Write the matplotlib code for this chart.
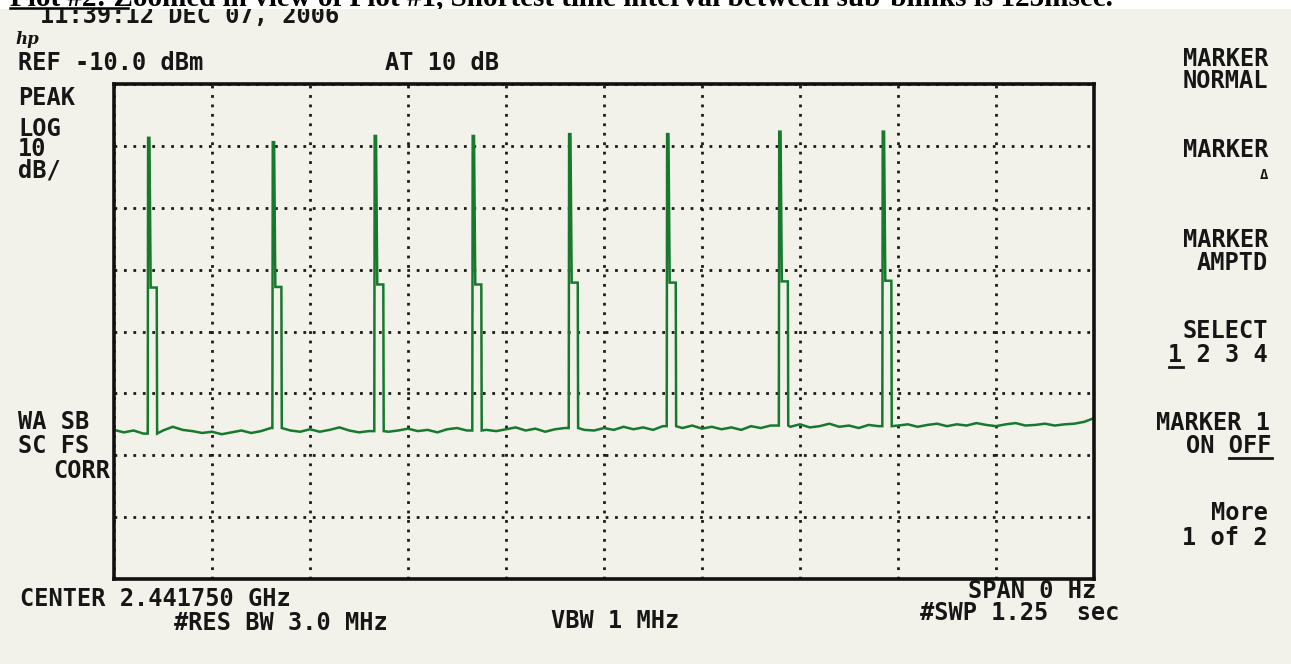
import numpy as np
import matplotlib
matplotlib.use("Agg")
import matplotlib.pyplot as plt
from matplotlib.lines import Line2D
from matplotlib.patches import Rectangle
from matplotlib.transforms import Bbox, TransformedBbox

# zero-span sweep: 1.25 s across the screen, ref -10 dBm, 10 dB/div
sweep_s = 1.25
ref_dbm = -10.0
db_per_div = 10

# noise floor read every 12.5 ms (dBm)
floor_db = [
    -65.9, -66.3, -66.0, -66.5, -66.2, -66.0, -65.4, -65.9, -66.1, -66.4,
    -66.2, -66.6, -66.3, -66.0, -66.4, -66.1, -65.6, -66.3, -66.0, -66.2,
    -65.8, -66.2, -65.9, -65.5, -66.0, -66.3, -66.1, -65.8, -66.2, -66.0,
    -65.7, -66.1, -65.9, -66.3, -65.8, -65.6, -66.0, -65.4, -65.9, -66.1,
    -65.8, -65.5, -66.0, -65.7, -66.2, -65.8, -65.6, -65.3, -65.9, -66.0,
    -65.6, -65.9, -65.4, -65.8, -65.5, -65.9, -65.3, -65.7, -65.6, -65.2,
    -65.7, -65.4, -65.8, -65.5, -65.9, -65.3, -65.6, -65.2, -65.7, -65.4,
    -65.0, -65.5, -65.3, -64.9, -65.4, -65.2, -65.6, -65.1, -65.3, -64.8,
    -65.2, -65.0, -65.4, -65.1, -64.9, -65.3, -65.0, -65.2, -64.8, -65.1,
    -65.3, -65.0, -64.8, -65.2, -65.1, -64.9, -65.2, -65.0, -64.9, -64.6,
    -64.0,
]

# sub-blinks: start time (s), spike level and shoulder level (dBm)
burst_t = [0.043, 0.202, 0.332, 0.457, 0.580, 0.705, 0.848, 0.980]
burst_peak = [-18.7, -19.4, -18.4, -18.4, -18.1, -18.1, -17.7, -17.7]
burst_shoulder = [-42.9, -42.8, -42.4, -42.4, -42.1, -42.1, -41.9, -41.8]
burst_len = 0.0115

floor_t = np.linspace(0, sweep_s, len(floor_db))

# build the trace: floor with the bursts spliced in
tx, ty = [], []
k = 0
for tt, vv in zip(floor_t, floor_db):
    if k < len(burst_t) and tt >= burst_t[k]:
        t0 = burst_t[k]
        fl = ty[-1]
        tx += [t0, t0 + 0.0005, t0 + 0.0022, t0 + 0.0038, t0 + burst_len,
               t0 + burst_len + 0.0005]
        ty += [fl, burst_peak[k], burst_peak[k], burst_shoulder[k], burst_shoulder[k], fl]
        k += 1
    if k > 0 and burst_t[k - 1] <= tt <= burst_t[k - 1] + burst_len + 0.0005:
        continue
    tx.append(tt)
    ty.append(vv)

W, H = 1291, 664
paper = '#f3f2ea'
ink = '#161616'
green = '#17792d'
FS = 17
HP = dict(family='DejaVu Sans Mono', weight='bold', size=FS, color=ink)

fig = plt.figure(figsize=(W / 100, H / 100), dpi=100, facecolor=paper)


def fx(px):
    return px / W


def fy(py):
    return 1 - py / H


# white strip of the document above the scan
fig.add_artist(Rectangle((0, fy(9)), 1, 9 / H, transform=fig.transFigure,
                         facecolor='white', edgecolor='none', zorder=1))
top_clip = TransformedBbox(Bbox([[0, fy(9)], [1, 1]]), fig.transFigure)
scan_clip = TransformedBbox(Bbox([[0, 0], [1, fy(9)]]), fig.transFigure)

cap = fig.text(fx(10), fy(5), 'Plot #2: Zoomed in view of Plot #1, Shortest time interval '
               'between sub-blinks is 125msec.', family='Liberation Serif', weight='bold',
               size=21, color='black', va='baseline', zorder=2)
cap.set_clip_box(top_clip)
fig.add_artist(Line2D([fx(10), fx(128)], [fy(7.5), fy(7.5)], transform=fig.transFigure,
                      color='black', lw=1.8, zorder=2))

ax = fig.add_axes([fx(114), fy(579), fx(1094) - fx(114), fy(84) - fy(579)], zorder=2)
ax.set_facecolor(paper)
ax.plot(tx, ty, color=green, lw=1.8, solid_joinstyle='miter')
ax.set_xlim(0, sweep_s)
ax.set_ylim(ref_dbm - 8 * db_per_div, ref_dbm)
ax.set_xticks(np.arange(0, sweep_s + 0.01, sweep_s / 10))
ax.set_yticks(np.arange(ref_dbm - 8 * db_per_div, ref_dbm + 1, db_per_div))
ax.tick_params(length=0, labelbottom=False, labelleft=False)
ax.grid(True, color='#1a1a1a', linestyle=(0, (1, 2.4)), linewidth=2)
ax.set_axisbelow(True)
for s in ax.spines.values():
    s.set_linewidth(2.6)
    s.set_color('#111111')


def hp_text(px, py, s, ha='left', **kw):
    opts = dict(HP)
    opts.update(kw)
    return fig.text(fx(px), fy(py), s, ha=ha, va='baseline', **opts)


date = hp_text(40, 23, '11:39:12 DEC 07, 2006')
date.set_clip_box(scan_clip)
fig.text(fx(15), fy(44), 'hp', family='DejaVu Serif', style='italic', weight='bold',
         size=12, color=ink, va='baseline')

hp_text(18, 70, 'REF -10.0 dBm')
hp_text(385, 70, 'AT 10 dB')
hp_text(18, 105, 'PEAK')
hp_text(18, 136, 'LOG')
hp_text(18, 156, '10')
hp_text(18, 177, 'dB/')
hp_text(18, 429, 'WA SB')
hp_text(18, 453, 'SC FS')
hp_text(110, 478, 'CORR', ha='right')

hp_text(20, 606, 'CENTER 2.441750 GHz')
hp_text(388, 630, '#RES BW 3.0 MHz', ha='right')
hp_text(615, 628, 'VBW 1 MHz', ha='center')
hp_text(1096, 598, 'SPAN 0 Hz', ha='right')
hp_text(1120, 620, '#SWP 1.25  sec', ha='right')

R = 1268
hp_text(R, 66, 'MARKER', ha='right')
hp_text(R, 88, 'NORMAL', ha='right')
hp_text(R, 157, 'MARKER', ha='right')
hp_text(R, 179, 'Δ', ha='right', size=10)
hp_text(R, 247, 'MARKER', ha='right')
hp_text(R, 270, 'AMPTD', ha='right')
hp_text(R, 338, 'SELECT', ha='right')
hp_text(R, 362, '1 2 3 4', ha='right')
hp_text(R + 2, 430, 'MARKER 1', ha='right')
hp_text(R + 4, 453, 'ON OFF', ha='right')
hp_text(R, 520, 'More', ha='right')
hp_text(R, 545, '1 of 2', ha='right')

# underlines under the active soft-key choices
cw = 0.602 * FS * 100 / 72
fig.add_artist(Line2D([fx(R - 7 * cw), fx(R - 6 * cw)], [fy(367), fy(367)],
                      transform=fig.transFigure, color=ink, lw=2))
fig.add_artist(Line2D([fx(R + 4 - 3 * cw), fx(R + 4)], [fy(458), fy(458)],
                      transform=fig.transFigure, color=ink, lw=2))

fig.savefig('out.png', dpi=100, facecolor=paper)
